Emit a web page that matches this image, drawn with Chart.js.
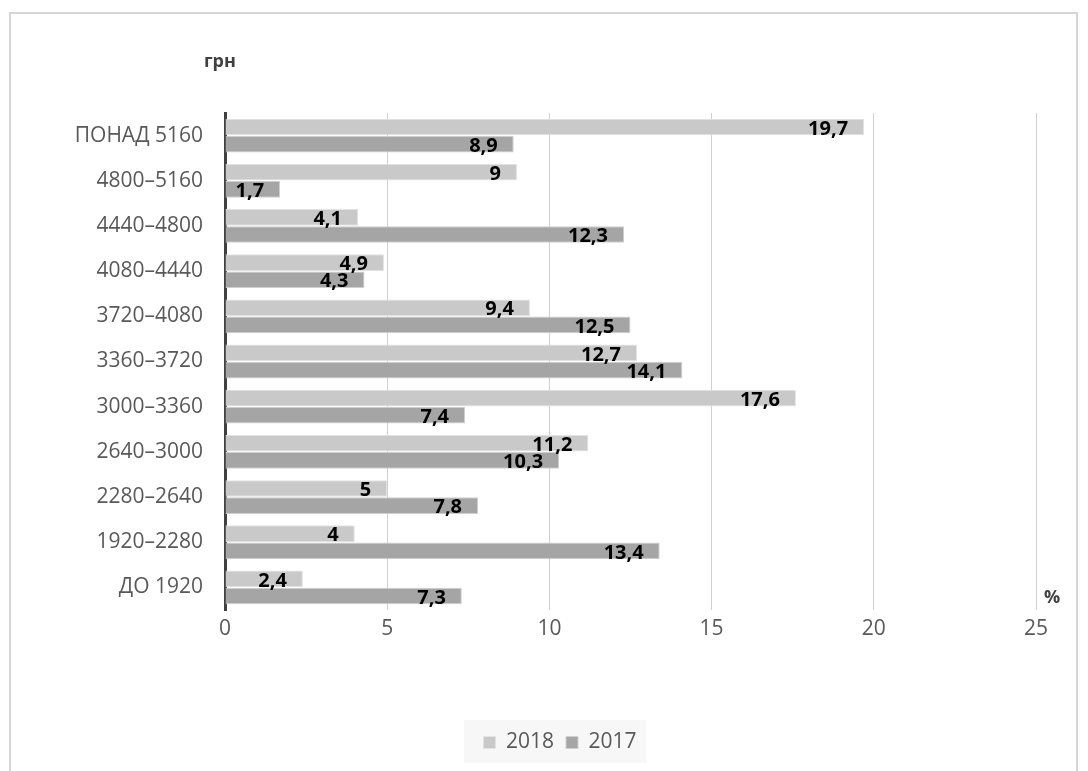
<!DOCTYPE html>
<html>
<head>
<meta charset="utf-8">
<script src="https://cdn.jsdelivr.net/npm/chart.js@4"></script>
<style>
  body { margin: 0; background: #fff; }
  #wrap { position: relative; width: 1088px; height: 771px; overflow: hidden; }
  #frame { position: absolute; left: 9px; top: 12px; width: 1069px; height: 800px; border: 2px solid #d6d6d6; box-sizing: border-box; }
  #myChart { position: absolute; left: 0; top: 0; }
</style>
</head>
<body>
<div id="wrap">
  <div id="frame"></div>
  <canvas id="myChart" width="1088" height="771"></canvas>
</div>
<script>
// categories (top to bottom)
const categories = ['ПОНАД 5160', '4800–5160', '4440–4800', '4080–4440', '3720–4080', '3360–3720',
                    '3000–3360', '2640–3000', '2280–2640', '1920–2280', 'ДО 1920'];
// share of workers, %
const values2018 = [19.7, 9, 4.1, 4.9, 9.4, 12.7, 17.6, 11.2, 5, 4, 2.4];
const values2017 = [8.9, 1.7, 12.3, 4.3, 12.5, 14.1, 7.4, 10.3, 7.8, 13.4, 7.3];
const xTicks = [0, 5, 10, 15, 20, 25];

const fontName = '"Open Sans", "DejaVu Sans", sans-serif';

// value labels at the end of each bar, plus axis captions
const labelPlugin = {
    id: 'labels',
    afterLayout(chart) {
        // legend sits a bit right of the centre in the original
        const lg = chart.legend;
        if (lg) { lg.left += 32; lg.right += 32; }
    },
    beforeDraw(chart) {
        const c = chart.ctx;
        c.save();
        c.fillStyle = '#f7f7f7';
        c.fillRect(464, 720, 182, 43);
        c.restore();
    },
    afterDatasetsDraw(chart) {
        const c = chart.ctx;
        c.save();
        c.font = 'bold 20px ' + fontName;
        c.fillStyle = '#000';
        c.textAlign = 'right';
        c.textBaseline = 'middle';
        chart.data.datasets.forEach(function(ds, i) {
            chart.getDatasetMeta(i).data.forEach(function(bar, j) {
                let txt = String(ds.data[j]).replace('.', ',');
                c.fillText(txt, bar.x - 16, bar.y + 2);
            });
        });
        const area = chart.chartArea;
        c.fillStyle = '#404040';
        c.font = 'bold 18px ' + fontName;
        c.textAlign = 'left';
        c.fillText('грн', 204, 62);
        c.fillText('%', 1044, area.bottom - 12);
        c.restore();
    }
};

document.addEventListener('DOMContentLoaded', function() {
    var ctx = document.getElementById('myChart').getContext('2d');
    new Chart(ctx, {
        type: 'bar',
        data: {
            labels: categories,
            datasets: [{
                label: '2018',
                data: values2018,
                backgroundColor: '#c9c9c9',
                borderColor: '#e2e2e2',
                borderWidth: 1,
                categoryPercentage: 0.76,
                barPercentage: 0.97
            }, {
                label: '2017',
                data: values2017,
                backgroundColor: '#a5a5a5',
                borderColor: '#cfcfcf',
                borderWidth: 1,
                categoryPercentage: 0.76,
                barPercentage: 0.97
            }]
        },
        options: {
            indexAxis: 'y',
            responsive: false,
            animation: false,
            layout: { padding: { left: 20, right: 52, top: 113, bottom: 8 } },
            scales: {
                x: {
                    min: 0,
                    max: 25,
                    afterBuildTicks: function(scale) {
                        scale.ticks = xTicks.map(function(v) { return { value: v }; });
                    },
                    grid: { color: '#d0d0d0', drawTicks: false },
                    border: { display: false },
                    ticks: { color: '#595959', padding: 6, font: { family: fontName, size: 21 } },
                    afterFit: function(scale) { scale.height = 110; }
                },
                y: {
                    grid: { display: false },
                    border: { display: true, color: '#404040', width: 3 },
                    ticks: { color: '#595959', padding: 14, font: { family: fontName, size: 21 } },
                    afterFit: function(scale) { scale.width = 205; }
                }
            },
            plugins: {
                legend: {
                    position: 'bottom',
                    labels: {
                        color: '#595959',
                        boxWidth: 12,
                        boxHeight: 12,
                        padding: 12,
                        font: { family: fontName, size: 21 }
                    }
                },
                tooltip: { enabled: false }
            }
        },
        plugins: [labelPlugin]
    });
});
</script>
</body>
</html>
